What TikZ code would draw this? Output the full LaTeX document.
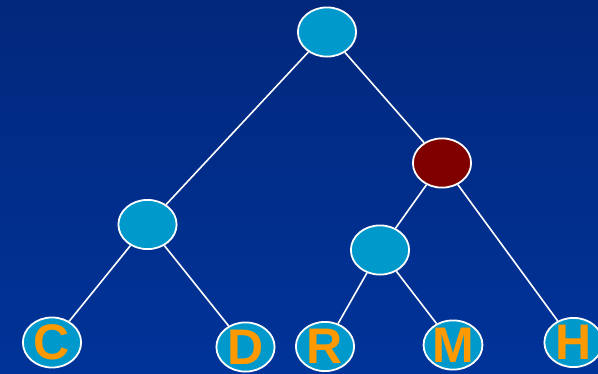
\documentclass[tikz,border=0pt]{standalone}
\usepackage{fontspec}
\setmainfont{Liberation Sans}
\usetikzlibrary{shapes.geometric}
\definecolor{bgtop}{RGB}{2,40,124}
\definecolor{bgbot}{RGB}{0,51,153}
\definecolor{nodefill}{RGB}{0,153,204}
\definecolor{hotfill}{RGB}{128,0,0}
\definecolor{letter}{RGB}{255,153,0}
\tikzset{
  tnode/.style={ellipse, draw=white, line width=1.8pt, fill=nodefill,
    minimum width=58.2pt, minimum height=49.2pt, inner sep=0pt,
    text=letter, font=\fontsize{50}{50}\selectfont\bfseries},
  hot/.style={tnode, fill=hotfill},
  edge/.style={draw=white, line width=1.6pt}
}
\begin{document}
\begin{tikzpicture}[x=1pt,y=-1pt]
  \useasboundingbox (0,0) rectangle (598,373);
  \clip (0,0) rectangle (598,373);
  \shade[top color=bgtop, bottom color=bgbot] (0,0) rectangle (598,373);

  % tree nodes
  \node[tnode] (root) at (327,32) {};
  \node[hot]   (red)  at (442,163) {};
  \node[tnode] (lm)   at (147.5,224.5) {};
  \node[tnode] (rm)   at (380,250) {};
  \node[tnode] (c)    at (52,342.5) {C};
  \node[tnode] (d)    at (245.5,347) {D};
  \node[tnode] (r)    at (325,346.5) {R};
  \node[tnode] (m)    at (453,345) {M};
  \node[tnode] (h)    at (573.5,342.5) {H};

  % branches
  \draw[edge] (root) -- (lm);
  \draw[edge] (root) -- (red);
  \draw[edge] (red) -- (rm);
  \draw[edge] (red) -- (h);
  \draw[edge] (lm) -- (c);
  \draw[edge] (lm) -- (d);
  \draw[edge] (rm) -- (r);
  \draw[edge] (rm) -- (m);
\end{tikzpicture}
\end{document}
